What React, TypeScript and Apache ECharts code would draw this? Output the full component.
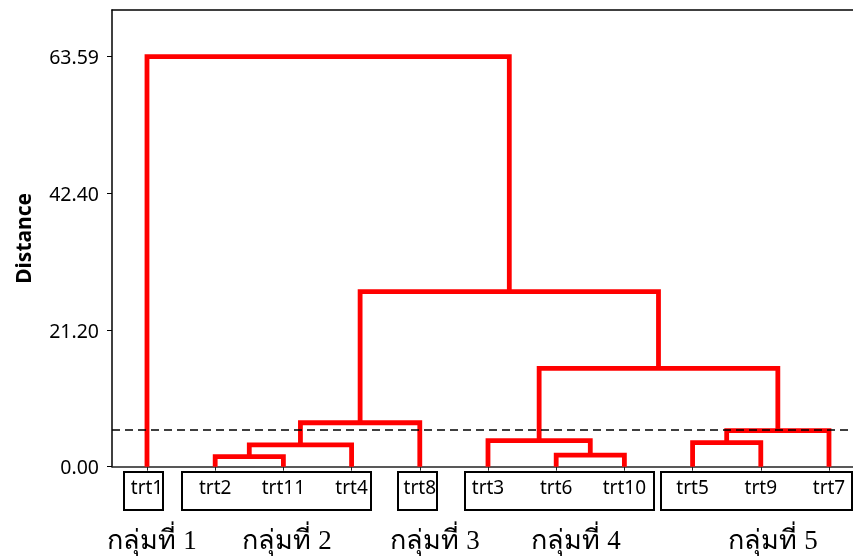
import React, { useEffect, useRef } from 'react';
import * as echarts from 'echarts';

// Leaves of the dendrogram, in drawing order
const leaves = ['trt1', 'trt2', 'trt11', 'trt4', 'trt8', 'trt3', 'trt6', 'trt10', 'trt5', 'trt9', 'trt7'];
// Merges: ids 0..10 are leaves, merge k gets id 11 + k
const mergeLeft = [1, 11, 12, 6, 5, 8, 16, 15, 13, 0];
const mergeRight = [2, 3, 4, 7, 14, 9, 10, 17, 18, 19];
const mergeHeight = [1.55, 3.37, 6.82, 1.81, 4.03, 3.72, 5.58, 15.26, 27.14, 63.59];
const cutDistance = 5.69;
const yTickValues = [0, 21.1967, 42.3933, 63.59];
const yTickLabels = ['0.00', '21.20', '42.40', '63.59'];
const groupNames = ['กลุ่มที่ 1', 'กลุ่มที่ 2', 'กลุ่มที่ 3', 'กลุ่มที่ 4', 'กลุ่มที่ 5'];

// layout (pixels)
const groupLabelX = [152, 287, 435, 576, 773];
const groupBoxes = [
  [124, 472, 39, 38],
  [182, 472, 189, 38],
  [398, 472, 39, 38],
  [465, 472, 189, 38],
  [661, 472, 191, 38],
];

export default function App() {
  const ref = useRef<HTMLDivElement>(null);
  useEffect(() => {
    if (!ref.current) return;
    const chart = echarts.init(ref.current, null, { renderer: 'svg' });
    const nodeX: number[] = leaves.map((_, i) => i);
    const nodeH: number[] = leaves.map(() => 0);
    const series: any[] = mergeLeft.map((l, k) => {
      const r = mergeRight[k];
      const h = mergeHeight[k];
      const data = [
        [nodeX[l], nodeH[l]],
        [nodeX[l], h],
        [nodeX[r], h],
        [nodeX[r], nodeH[r]],
      ];
      nodeX.push((nodeX[l] + nodeX[r]) / 2);
      nodeH.push(h);
      return {
        type: 'line',
        xAxisIndex: 0,
        yAxisIndex: 0,
        data,
        symbol: 'none',
        silent: true,
        lineStyle: { color: '#ff0000', width: 4.8, join: 'miter', cap: 'butt' },
        z: 3,
      };
    });
    series.push({
      type: 'line',
      xAxisIndex: 0,
      yAxisIndex: 0,
      data: [],
      symbol: 'none',
      markLine: {
        silent: true,
        symbol: 'none',
        label: { show: false },
        lineStyle: { color: '#000', width: 1.7, type: [8, 5] },
        data: [{ yAxis: cutDistance }],
      },
      z: 2,
    });
    const xMin = -0.513;
    const xMax = 10.352;
    const font = 'Noto Sans';
    chart.setOption({
      animation: false,
      grid: { left: 112, right: 0, top: 10, bottom: 92.3, containLabel: false },
      xAxis: [
        {
          type: 'value',
          min: xMin,
          max: xMax,
          position: 'bottom',
          axisLine: { show: true, onZero: false, lineStyle: { color: '#222', width: 1.5 } },
          axisTick: { show: true, length: 4, customValues: leaves.map((_, i) => i), lineStyle: { color: '#222' } },
          axisLabel: {
            show: true,
            customValues: leaves.map((_, i) => i),
            formatter: (v: number) => leaves[Math.round(v)] ?? '',
            color: '#000',
            fontFamily: font,
            fontSize: 19,
            margin: 11,
          },
          splitLine: { show: false },
        },
        {
          type: 'value',
          min: xMin,
          max: xMax,
          position: 'top',
          axisLine: { show: true, onZero: false, lineStyle: { color: '#000', width: 1.5 } },
          axisTick: { show: false },
          axisLabel: { show: false },
          splitLine: { show: false },
        },
      ],
      yAxis: {
        type: 'value',
        min: 0,
        max: 70.83,
        name: 'Distance',
        nameLocation: 'middle',
        nameRotate: 90,
        nameGap: 79,
        nameTextStyle: { fontFamily: font, fontWeight: 'bold', fontSize: 21, color: '#000' },
        axisLine: { show: true, onZero: false, lineStyle: { color: '#000', width: 1.5 } },
        axisTick: { show: true, length: 5, customValues: yTickValues, lineStyle: { color: '#000' } },
        axisLabel: {
          show: true,
          customValues: yTickValues,
          formatter: (v: number) => {
            const i = yTickValues.findIndex((t) => Math.abs(t - v) < 1e-3);
            return i >= 0 ? yTickLabels[i] : '';
          },
          color: '#000',
          fontFamily: font,
          fontSize: 19.5,
          margin: 13,
        },
        splitLine: { show: false },
      },
      graphic: [
        ...groupBoxes.map((b) => ({
          type: 'rect',
          shape: { x: b[0], y: b[1], width: b[2], height: b[3] },
          style: { fill: 'none', stroke: '#000', lineWidth: 2 },
          silent: true,
          z: 1,
        })),
        ...groupNames.map((n, i) => ({
          type: 'text',
          x: groupLabelX[i],
          y: 540,
          style: {
            text: n,
            fill: '#000',
            font: '27px "Liberation Serif", serif',
            align: 'center',
            verticalAlign: 'middle',
          },
          silent: true,
        })),
      ],
      series,
    });
    return () => chart.dispose();
  }, []);
  return <div ref={ref} style={{ position: 'fixed', left: 0, top: 0, width: 853, height: 559 }} />;
}
